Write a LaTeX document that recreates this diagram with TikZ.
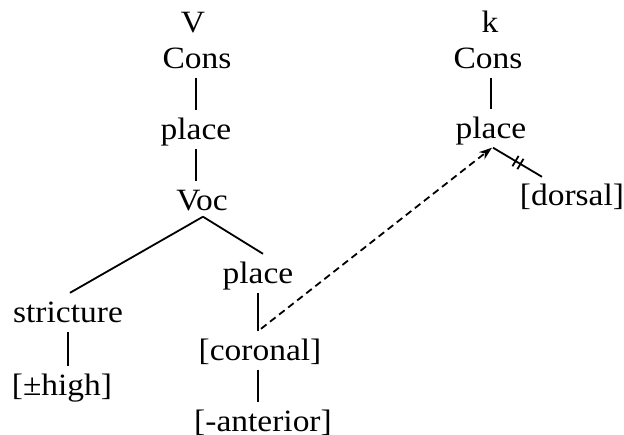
\documentclass[tikz,border=0pt]{standalone}
\usepackage{fontspec}
\setmainfont{Liberation Serif}[FakeStretch=1.08]
\usetikzlibrary{arrows.meta,calc}
\begin{document}
\begin{tikzpicture}[x=1pt,y=-1pt,
  lab/.style={font=\fontsize{31}{36}\selectfont, text height=29pt, text depth=9.5pt,
    inner ysep=0pt, inner xsep=1pt, anchor=base},
  edge/.style={line width=1.8pt},
  moved/.style={line width=1.8pt, dash pattern=on 7pt off 4.5pt,
    -{Stealth[length=13pt,width=9pt,inset=4pt]}}]
\useasboundingbox (0,0) rectangle (624,434);
% left tree
\node[lab] (v) at (193,32) {V};
\node[lab] (cons1) at (197,68) {Cons};
\node[lab] (pl1) at (196,139) {place};
\node[lab] (voc) at (202,210) {Voc};
\node[lab] (str) at (68,322) {stricture};
\node[lab] (high) at (62,395) {[±high]};
\node[lab] (pl2) at (258,283) {place};
\node[lab] (cor) at (260,360) {[coronal]};
\node[lab] (ant) at (263,431) {[-anterior]};
% right tree
\node[lab] (k) at (490,32) {k};
\node[lab] (cons2) at (488,68) {Cons};
\node[lab] (pl3) at (491,138) {place};
\node[lab] (dor) at (572,205) {[dorsal]};
% connectors
\draw[edge] (cons1.south -| pl1.south) -- (pl1.north);
\draw[edge] (pl1.south) -- (pl1.south |- voc.north);
\draw[edge] ($(voc.south)+(1,-3)$) -- ($(str.north)+(2,0)$);
\draw[edge] ($(voc.south)+(1,-3)$) -- ($(pl2.north)+(5,0)$);
\draw[edge] (str.south) -- (str.south |- high.north);
\draw[edge] (pl2.south) -- (pl2.south |- cor.north);
\draw[edge] (pl2.south |- cor.south) -- (pl2.south |- ant.north);
\draw[edge] (cons2.south -| pl3.south) -- (pl3.north);
\draw[moved] ($(pl2.south |- cor.north)+(3,-2)$) -- ($(pl3.south)+(1,0)$);
\draw[edge] ($(pl3.south)+(2,0)$) -- coordinate[pos=0.46] (m1) coordinate[pos=0.56] (m2)
  ($(dor.north)+(-30,1)$) coordinate (dend);
\draw[edge] ($(m1)!6pt!90:(dend)$) -- ($(m1)!6pt!-90:(dend)$);
\draw[edge] ($(m2)!6pt!90:(dend)$) -- ($(m2)!6pt!-90:(dend)$);
\end{tikzpicture}
\end{document}
